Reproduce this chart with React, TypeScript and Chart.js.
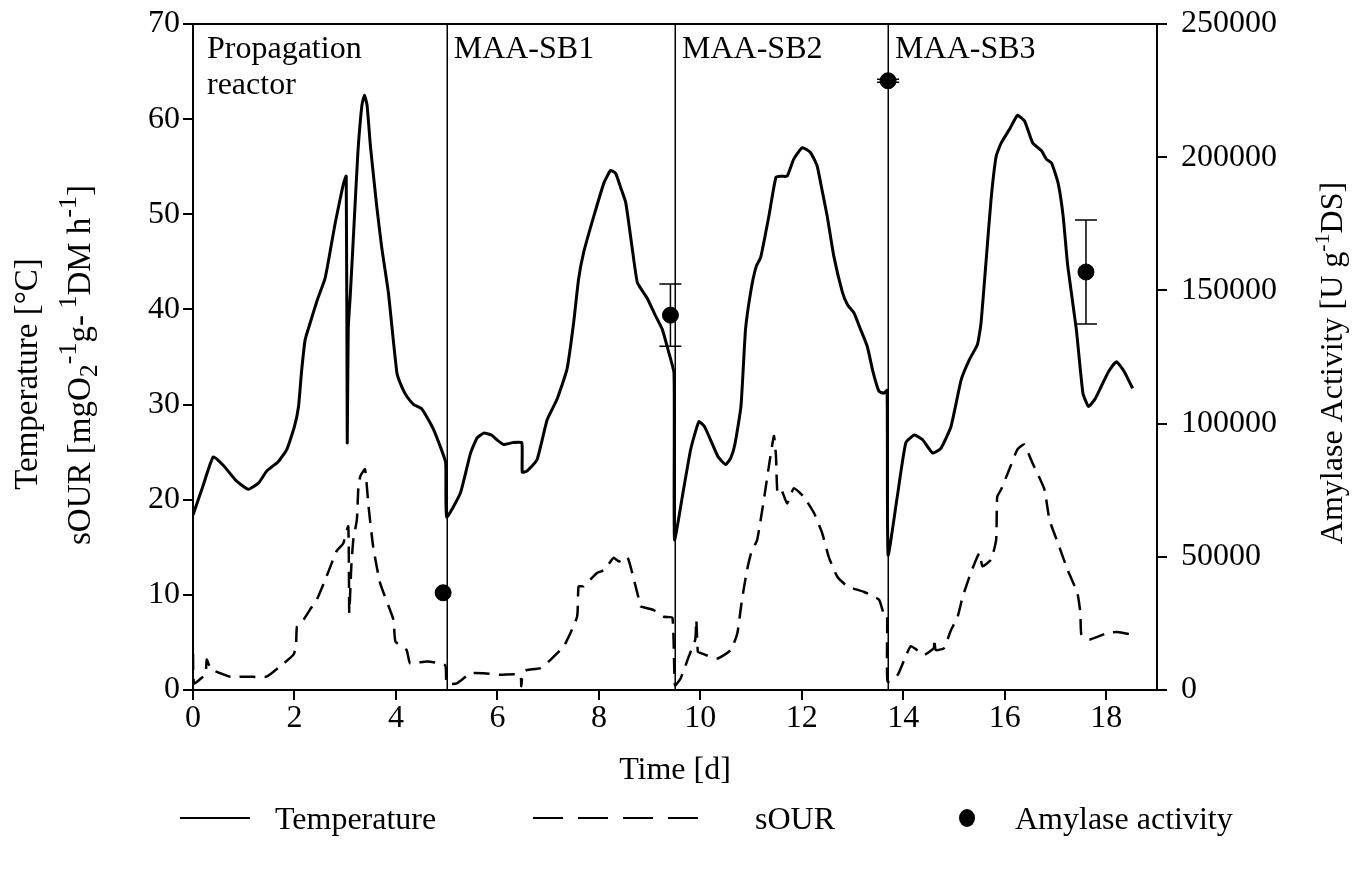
import React, { useEffect, useRef } from 'react';
import { Chart, registerables } from 'chart.js';

Chart.register(...registerables);

const FONT = '"Liberation Serif", "Times New Roman", serif';

// Temperature [°C] over time [d]
const tempTime = [
  0.0, 0.2, 0.4, 0.6, 0.85, 1.09, 1.3, 1.45, 1.68, 1.85, 2.0, 2.08, 2.14, 2.21, 2.31, 2.45, 2.6, 2.7, 2.8, 2.9, 2.97, 3.02,
  3.04, 3.06, 3.1, 3.17, 3.25, 3.33, 3.38, 3.43, 3.5, 3.62, 3.72, 3.85, 4.02, 4.12, 4.21, 4.35, 4.5, 4.62, 4.74, 4.88, 4.98,
  5.0, 5.27, 5.47, 5.6, 5.73, 5.88, 5.99, 6.12, 6.3, 6.48, 6.49, 6.58, 6.78, 6.98, 7.17, 7.37, 7.5, 7.6, 7.7, 7.9, 8.1, 8.23,
  8.33, 8.43, 8.53, 8.66, 8.76, 8.95, 9.1, 9.25, 9.35, 9.48,
  9.49, 9.65, 9.81, 9.97, 10.08, 10.2, 10.35, 10.5, 10.6, 10.68, 10.8, 10.89, 11.0, 11.1, 11.19, 11.35, 11.49, 11.6, 11.71,
  11.84, 12.01, 12.17, 12.3, 12.4, 12.5, 12.63, 12.8, 12.9, 13.03, 13.15, 13.29, 13.4, 13.52, 13.62, 13.68,
  13.7, 13.88, 14.05, 14.22, 14.38, 14.58, 14.74, 14.94, 15.14, 15.3, 15.46, 15.53, 15.63, 15.73, 15.83, 15.93, 16.09, 16.25,
  16.39, 16.55, 16.72, 16.82, 16.92, 17.05, 17.15, 17.24, 17.41, 17.54, 17.65, 17.78, 17.9, 18.05, 18.2, 18.35, 18.52,
];
const tempValue = [
  18.4, 21.5, 24.5, 23.6, 22.0, 21.1, 21.8, 23.0, 24.0, 25.3, 27.7, 29.8, 33.5, 36.8, 38.6, 41.0, 43.2, 46.0, 49.0, 51.6, 53.3, 54.0,
  26.0, 38.0, 41.5, 48.5, 56.5, 61.5, 62.5, 61.5, 57.0, 50.9, 46.5, 41.8, 33.3, 31.8, 30.9, 30.0, 29.6, 28.6, 27.4, 25.5, 23.9,
  18.2, 20.7, 24.9, 26.5, 27.0, 26.8, 26.3, 25.8, 26.0, 26.0, 22.9, 23.0, 24.2, 28.4, 30.5, 33.7, 38.5, 43.2, 46.0, 49.8, 53.3, 54.6,
  54.3, 52.8, 51.2, 46.3, 42.8, 41.2, 39.5, 37.9, 36.0, 33.3,
  15.8, 20.5, 25.3, 28.2, 27.7, 26.3, 24.5, 23.7, 24.4, 25.8, 29.8, 37.9, 42.1, 44.5, 45.5, 49.8, 53.9, 54.0, 54.0,
  55.8, 57.0, 56.5, 55.1, 52.5, 49.8, 45.6, 41.8, 40.5, 39.6, 38.0, 36.1, 33.5, 31.4, 31.2, 31.5,
  14.2, 20.3, 26.0, 26.8, 26.3, 24.9, 25.4, 27.7, 32.6, 34.7, 36.3, 38.5, 45.0, 51.6, 56.1, 57.5, 58.9, 60.4,
  59.8, 57.5, 56.7, 55.8, 55.4, 53.3, 49.8, 44.6, 37.9, 31.2, 29.8, 30.6, 31.9, 33.5, 34.5, 33.5, 31.7,
];

// sOUR [mgO2 g-1 DM h-1] over time [d]
const sourTime = [
  0.0, 0.02, 0.2, 0.25, 0.27, 0.35, 0.47, 0.73, 1.12, 1.45, 1.72, 1.98, 2.03, 2.05, 2.18, 2.3, 2.44, 2.63, 2.83, 2.96, 3.06,
  3.08, 3.12, 3.16, 3.23, 3.26, 3.3, 3.39, 3.46, 3.55, 3.69, 3.95, 3.99, 4.21, 4.28, 4.61, 4.97,
  5.0, 5.2, 5.47, 5.73, 6.06, 6.45, 6.47, 6.5, 6.58, 6.85, 7.05, 7.31, 7.57, 7.6, 7.7, 7.96, 8.1, 8.23, 8.29, 8.4, 8.56,
  8.69, 8.79, 8.82, 9.08, 9.28, 9.45,
  9.5, 9.61, 9.77, 9.9, 9.92, 9.95, 10.0, 10.33, 10.6, 10.73, 10.82, 10.92, 11.0, 11.12, 11.26, 11.35, 11.45, 11.49, 11.52,
  11.6, 11.71, 11.84, 12.04, 12.24, 12.4, 12.53, 12.7, 12.9, 13.23, 13.52, 13.62, 13.68,
  13.69, 13.89, 14.02, 14.15, 14.41, 14.6, 14.61, 14.64, 14.8, 14.94, 15.07, 15.17, 15.33, 15.5, 15.56, 15.73, 15.83, 15.85,
  15.93, 16.09, 16.25, 16.38, 16.55, 16.78, 16.88, 17.05, 17.24, 17.43, 17.49, 17.51, 17.67, 18.03, 18.22, 18.52,
];
const sourValue = [
  3.8, 0.7, 1.4, 1.6, 3.2, 2.2, 1.9, 1.4, 1.4, 1.4, 2.5, 3.7, 4.6, 6.7, 7.4, 8.4, 9.5, 11.9, 14.6, 15.4, 17.2,
  8.1, 13.0, 15.8, 17.9, 21.4, 22.5, 23.2, 19.3, 15.1, 11.2, 7.4, 5.1, 4.2, 2.8, 3.0, 2.6,
  0.7, 0.7, 1.75, 1.75, 1.6, 1.6, 0.4, 1.8, 2.1, 2.3, 3.2, 4.6, 7.7, 10.9, 10.9, 12.3, 12.6, 13.5, 13.9, 13.5, 14.0,
  11.6, 9.5, 8.8, 8.4, 7.7, 7.6,
  0.5, 1.2, 3.5, 5.3, 7.4, 4.0, 3.9, 3.3, 4.2, 6.0, 9.5, 12.6, 14.4, 15.8, 20.3, 23.5, 26.7, 24.6, 20.7,
  21.0, 19.6, 21.2, 20.3, 18.6, 16.5, 14.0, 11.9, 10.9, 10.3, 9.5, 7.9, 7.9,
  0.9, 1.6, 3.2, 4.6, 3.7, 4.4, 5.4, 4.2, 4.4, 6.3, 7.7, 9.8, 12.3, 14.4, 13.0, 13.7, 15.8, 20.3,
  21.1, 23.2, 25.3, 25.8, 23.8, 21.1, 17.9, 15.4, 12.6, 10.2, 8.1, 5.8, 5.3, 6.0, 6.1, 5.8,
];

// Amylase activity [U g-1 DS]
const amyTime = [4.93, 9.41, 13.7, 17.6];
const amyValue = [36500, 140700, 228700, 156900];
const amyError = [0, 11700, 600, 19500];

const xTicks = [0, 2, 4, 6, 8, 10, 12, 14, 16, 18];
const yTicks = [0, 10, 20, 30, 40, 50, 60, 70];
const y2Ticks = [0, 50000, 100000, 150000, 200000, 250000];

const separators = [5, 9.5, 13.7];
const phaseStart = [0, 5, 9.5, 13.7];
const phaseLabels = [['Propagation', 'reactor'], ['MAA-SB1'], ['MAA-SB2'], ['MAA-SB3']];

type Part = { t: string; k?: 'sup' | 'sub' };

function drawRotatedRich(
  ctx: CanvasRenderingContext2D,
  parts: Part[],
  cx: number,
  cy: number,
  size: number,
  ratio = 0.7
) {
  const big = `${size}px ${FONT}`;
  const small = `${Math.round(size * ratio)}px ${FONT}`;
  let total = 0;
  const widths = parts.map((p) => {
    ctx.font = p.k ? small : big;
    const w = ctx.measureText(p.t).width;
    total += w;
    return w;
  });
  ctx.save();
  ctx.translate(cx, cy);
  ctx.rotate(-Math.PI / 2);
  ctx.textBaseline = 'alphabetic';
  ctx.textAlign = 'left';
  ctx.fillStyle = '#000';
  let pos = -total / 2;
  parts.forEach((p, i) => {
    ctx.font = p.k ? small : big;
    const dy = p.k === 'sup' ? -size * 0.42 : p.k === 'sub' ? size * 0.22 : 0;
    ctx.fillText(p.t, pos, dy);
    pos += widths[i];
  });
  ctx.restore();
}

const customPlugin = {
  id: 'customDecor',
  afterDraw(chart: any) {
    const { ctx, chartArea: ca, scales } = chart;
    const xs = scales.x;
    const y2 = scales.y2;
    ctx.save();
    ctx.strokeStyle = '#000';
    ctx.fillStyle = '#000';

    // top border
    ctx.lineWidth = 2;
    ctx.beginPath();
    ctx.moveTo(ca.left - 1, ca.top);
    ctx.lineTo(ca.right + 1, ca.top);
    ctx.stroke();

    // phase separators
    ctx.lineWidth = 1.5;
    separators.forEach((s) => {
      const px = Math.round(xs.getPixelForValue(s)) + 0.25;
      ctx.beginPath();
      ctx.moveTo(px, ca.top);
      ctx.lineTo(px, ca.bottom);
      ctx.stroke();
    });

    // phase labels
    ctx.font = `32px ${FONT}`;
    ctx.textAlign = 'left';
    ctx.textBaseline = 'alphabetic';
    phaseLabels.forEach((lines, i) => {
      const px = xs.getPixelForValue(phaseStart[i]) + (i === 0 ? 14 : 7);
      lines.forEach((ln, j) => {
        ctx.fillText(ln, px, ca.top + 34 + j * 36);
      });
    });

    // error bars for amylase
    ctx.lineWidth = 1.5;
    amyTime.forEach((t, i) => {
      if (!amyError[i]) return;
      const px = xs.getPixelForValue(t);
      const top = y2.getPixelForValue(amyValue[i] + amyError[i]);
      const bot = y2.getPixelForValue(amyValue[i] - amyError[i]);
      ctx.beginPath();
      ctx.moveTo(px, top);
      ctx.lineTo(px, bot);
      ctx.moveTo(px - 11, top);
      ctx.lineTo(px + 11, top);
      ctx.moveTo(px - 11, bot);
      ctx.lineTo(px + 11, bot);
      ctx.stroke();
    });

    // axis titles
    drawRotatedRich(ctx, [{ t: 'Temperature [°C]' }], 37, 374, 33);
    drawRotatedRich(
      ctx,
      [
        { t: 'sOUR [mgO' },
        { t: '2', k: 'sub' },
        { t: '-1', k: 'sup' },
        { t: 'g-' },
        { t: ' 1', k: 'sup' },
        { t: 'DM h' },
        { t: '-1', k: 'sup' },
        { t: ']' },
      ],
      90,
      365,
      33,
      0.78
    );
    drawRotatedRich(
      ctx,
      [{ t: 'Amylase Activity [U g' }, { t: '-1', k: 'sup' }, { t: 'DS]' }],
      1342,
      363,
      32
    );

    // legend
    const ly = 818;
    ctx.lineWidth = 2;
    ctx.setLineDash([]);
    ctx.beginPath();
    ctx.moveTo(180, ly);
    ctx.lineTo(250, ly);
    ctx.stroke();
    ctx.setLineDash([30, 15]);
    ctx.beginPath();
    ctx.moveTo(533, ly);
    ctx.lineTo(700, ly);
    ctx.stroke();
    ctx.setLineDash([]);
    ctx.beginPath();
    ctx.ellipse(967, ly, 8, 9, 0, 0, Math.PI * 2);
    ctx.fill();
    ctx.font = `32px ${FONT}`;
    ctx.textBaseline = 'alphabetic';
    ctx.fillText(chart.data.datasets[0].label, 275, ly + 11);
    ctx.fillText(chart.data.datasets[1].label, 755, ly + 11);
    ctx.fillText(chart.data.datasets[2].label, 1015, ly + 11);

    ctx.restore();
  },
};

const tickFont = { family: FONT, size: 32 };

export default function App() {
  const ref = useRef<HTMLCanvasElement | null>(null);

  useEffect(() => {
    if (!ref.current) return;
    const chart = new Chart(ref.current, {
      type: 'line',
      data: {
        datasets: [
          {
            label: 'Temperature',
            data: tempTime.map((t, i) => ({ x: t, y: tempValue[i] })),
            borderColor: '#000',
            borderWidth: 3,
            pointRadius: 0,
            tension: 0.15,
            fill: false,
            yAxisID: 'y',
          },
          {
            label: 'sOUR',
            data: sourTime.map((t, i) => ({ x: t, y: sourValue[i] })),
            borderColor: '#000',
            borderWidth: 2.5,
            borderDash: [16, 9],
            pointRadius: 0,
            tension: 0.15,
            fill: false,
            yAxisID: 'y',
          },
          {
            label: 'Amylase activity',
            type: 'scatter',
            data: amyTime.map((t, i) => ({ x: t, y: amyValue[i] })),
            backgroundColor: '#000',
            borderColor: '#000',
            pointRadius: 8,
            showLine: false,
            yAxisID: 'y2',
          } as any,
        ],
      },
      options: {
        animation: false,
        responsive: false,
        layout: { padding: { top: 24, bottom: 79, left: 0, right: 0 } },
        plugins: { legend: { display: false }, tooltip: { enabled: false } },
        scales: {
          x: {
            type: 'linear',
            min: 0,
            max: 19,
            afterBuildTicks: (s: any) => {
              s.ticks = xTicks.map((v) => ({ value: v }));
            },
            afterFit: (s: any) => {
              s.height = 101;
              s.paddingLeft = 0;
              s.paddingRight = 0;
            },
            grid: { drawOnChartArea: false, color: '#000', tickLength: 10, lineWidth: 2 },
            border: { color: '#000', width: 2 },
            ticks: { font: tickFont, color: '#000', padding: -1, maxRotation: 0, autoSkip: false },
            title: {
              display: true,
              text: 'Time [d]',
              font: tickFont,
              color: '#000',
              padding: { top: 0, bottom: 1 },
            },
          },
          y: {
            type: 'linear',
            position: 'left',
            min: 0,
            max: 70,
            afterBuildTicks: (s: any) => {
              s.ticks = yTicks.map((v) => ({ value: v }));
            },
            afterFit: (s: any) => {
              s.width = 193;
              s.paddingTop = 0;
              s.paddingBottom = 0;
            },
            grid: { drawOnChartArea: false, color: '#000', tickLength: 10, lineWidth: 2 },
            border: { color: '#000', width: 2 },
            ticks: { font: tickFont, color: '#000', padding: 3 },
          },
          y2: {
            type: 'linear',
            position: 'right',
            min: 0,
            max: 250000,
            afterBuildTicks: (s: any) => {
              s.ticks = y2Ticks.map((v) => ({ value: v }));
            },
            afterFit: (s: any) => {
              s.width = 203;
              s.paddingTop = 0;
              s.paddingBottom = 0;
            },
            grid: { drawOnChartArea: false, color: '#000', tickLength: 10, lineWidth: 2 },
            border: { color: '#000', width: 2 },
            ticks: { font: tickFont, color: '#000', padding: 14, callback: (v: any) => String(v) },
          },
        },
      },
      plugins: [customPlugin],
    });
    return () => chart.destroy();
  }, []);

  return (
    <div style={{ position: 'absolute', left: 0, top: 0, width: 1360, height: 870, background: '#fff' }}>
      <canvas ref={ref} width={1360} height={870} style={{ display: 'block' }} />
    </div>
  );
}
